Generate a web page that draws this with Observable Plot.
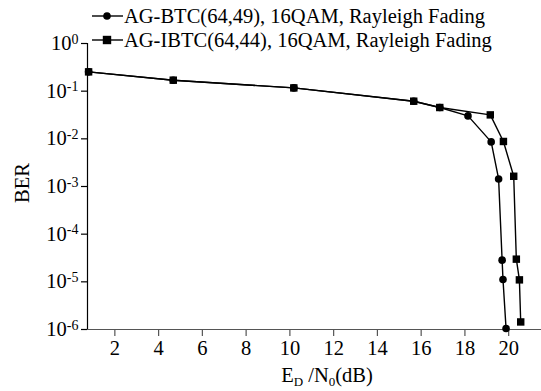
<!DOCTYPE html>
<html>
<head>
<meta charset="utf-8">
<script src="https://cdn.jsdelivr.net/npm/d3@7"></script>
<script src="https://cdn.jsdelivr.net/npm/@observablehq/plot@0.6"></script>
<style>
  html, body { margin: 0; padding: 0; background: #fff; }
  #wrap { position: relative; width: 541px; height: 391px; font-family: "Liberation Serif", "Times New Roman", serif; }
  #wrap svg text { font-family: "Liberation Serif", "Times New Roman", serif !important; }
  #legend { position: absolute; left: 92px; top: 4px; font-size: 20.5px; line-height: 24px; color: #000; }
  #legend .row { display: flex; align-items: center; height: 24px; white-space: nowrap; }
  #legend svg { margin-right: 1px; }
</style>
</head>
<body>
<div id="wrap"></div>
<script>
// ---- data ----
const seriesNames = ["AG-BTC(64,49), 16QAM, Rayleigh Fading", "AG-IBTC(64,44), 16QAM, Rayleigh Fading"];
const snrBTC  = [0.8, 4.67, 10.18, 15.66, 16.85, 18.14, 19.2, 19.54, 19.7, 19.74, 19.88];
const berBTC  = [0.254, 0.17, 0.117, 0.0616, 0.0454, 0.0303, 0.00863, 0.00144, 2.85e-5, 1.12e-5, 1.05e-6];
const snrIBTC = [0.8, 4.67, 10.18, 15.66, 16.85, 19.16, 19.76, 20.23, 20.35, 20.49, 20.55];
const berIBTC = [0.254, 0.17, 0.117, 0.0616, 0.0454, 0.0318, 0.0088, 0.00164, 2.99e-5, 1.1e-5, 1.44e-6];
const xTicks = [2, 4, 6, 8, 10, 12, 14, 16, 18, 20];
const yTicks = [1, 1e-1, 1e-2, 1e-3, 1e-4, 1e-5, 1e-6];
const yExponents = ["0", "-1", "-2", "-3", "-4", "-5", "-6"];

const btc = snrBTC.map((x, i) => ({x, y: berBTC[i]}));
const ibtc = snrIBTC.map((x, i) => ({x, y: berIBTC[i]}));

const serif = "'Liberation Serif', 'Times New Roman', serif";

const chart = Plot.plot({
  width: 541, height: 391,
  marginLeft: 87, marginRight: 0, marginTop: 43, marginBottom: 62,
  style: { fontFamily: serif, fontSize: "20px", color: "#000", background: "#fff", overflow: "visible" },
  x: { domain: [0.75, 21.5] },
  y: { type: "log", domain: [1e-6, 1] },
  marks: [
    Plot.ruleY([1e-6], { stroke: "#555", strokeWidth: 1.2 }),
    Plot.ruleX([0.75], { y1: 1e-6, y2: 1, stroke: "#000", strokeWidth: 1.2 }),
    Plot.axisX(xTicks, { tickSize: 7, tickPadding: 4, stroke: "#555", strokeWidth: 1.2, fill: "#000", label: null, fontSize: 20.5 }),
    Plot.axisY(yTicks, { tickSize: 6, tickPadding: 3, stroke: "#000", strokeWidth: 1.2, fill: "#000", label: null, fontSize: 20.5,
      tickFormat: (d) => "10^" + yExponents[yTicks.indexOf(d)] }),
    Plot.line(ibtc, { x: "x", y: "y", stroke: "#000", strokeWidth: 1.4 }),
    Plot.line(btc, { x: "x", y: "y", stroke: "#000", strokeWidth: 1.4 }),
    Plot.dot(ibtc, { x: "x", y: "y", symbol: "square", r: 4.2, fill: "#000" }),
    Plot.dot(btc, { x: "x", y: "y", symbol: "circle", r: 3.8, fill: "#000" })
  ]
});

const svg = d3.select(chart);
// superscript exponents on y tick labels
svg.selectAll('g[aria-label="y-axis tick label"] text').each(function() {
  const t = d3.select(this);
  const [base, exp] = t.text().split("^");
  t.text(base);
  t.append("tspan").attr("dy", "-0.45em").attr("font-size", "14px").text(exp);
});

// axis titles
const xl = svg.append("text").attr("x", 327).attr("y", 382).attr("text-anchor", "middle")
  .attr("font-size", 20.5).attr("fill", "#000");
xl.append("tspan").text("E");
xl.append("tspan").attr("dy", "4").attr("font-size", 13).text("D");
xl.append("tspan").attr("dy", "-4").text(" /N");
xl.append("tspan").attr("dy", "4").attr("font-size", 13).text("0");
xl.append("tspan").attr("dy", "-4").text("(dB)");

svg.append("text").attr("transform", "translate(29,183) rotate(-90)").attr("text-anchor", "middle")
  .attr("font-size", 20.5).attr("fill", "#000").text("BER");

svg.selectAll("text").attr("font-family", serif).style("font-family", serif);

const wrap = document.getElementById("wrap");
wrap.appendChild(chart);

// legend
const legend = document.createElement("div");
legend.id = "legend";
const symbols = [
  '<svg width="31" height="14"><line x1="0" y1="7" x2="31" y2="7" stroke="#000" stroke-width="1.4"/><circle cx="15" cy="7" r="3.8" fill="#000"/></svg>',
  '<svg width="31" height="14"><line x1="0" y1="7" x2="31" y2="7" stroke="#000" stroke-width="1.4"/><rect x="10.8" y="2.8" width="8.4" height="8.4" fill="#000"/></svg>'
];
seriesNames.forEach((name, i) => {
  const row = document.createElement("div");
  row.className = "row";
  row.innerHTML = symbols[i] + "<span>" + name + "</span>";
  legend.appendChild(row);
});
wrap.appendChild(legend);
</script>
</body>
</html>
